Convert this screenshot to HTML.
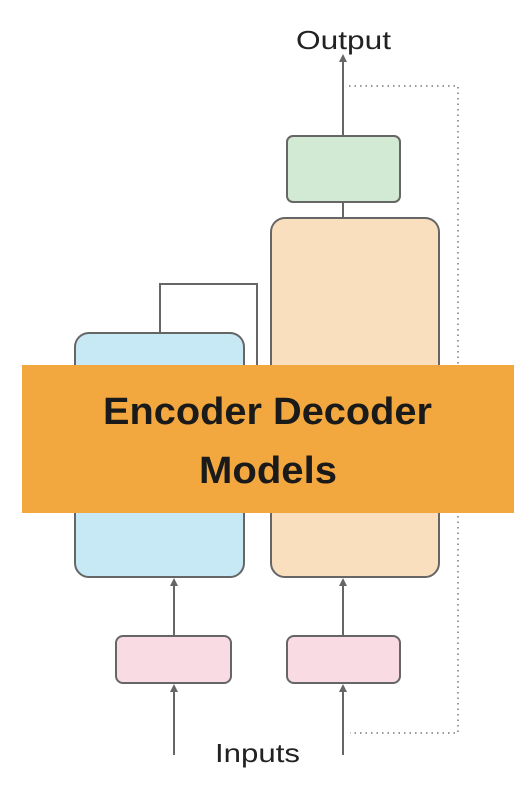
<!DOCTYPE html>
<html><head><style>
body{margin:0;width:532px;height:811px;background:#fff;overflow:hidden;position:relative;font-family:"Liberation Sans",sans-serif}
</style></head><body>
<svg width="532" height="811" style="position:absolute;left:0;top:0">
<defs><marker id="a" markerWidth="8" markerHeight="8" refX="4" refY="4" orient="auto" markerUnits="userSpaceOnUse"><path d="M0,0 L8,4 L0,8 z" fill="#666"/></marker></defs>
<g stroke="#666" stroke-width="2" fill="none">
<line x1="343" y1="137" x2="343" y2="58" marker-end="url(#a)"/>
<line x1="343" y1="202" x2="343" y2="218"/>
<polyline points="160,333 160,284 257,284 257,370"/>
<line x1="174" y1="755" x2="174" y2="688" marker-end="url(#a)"/>
<line x1="174" y1="636" x2="174" y2="582" marker-end="url(#a)"/>
<line x1="343" y1="755" x2="343" y2="688" marker-end="url(#a)"/>
<line x1="343" y1="636" x2="343" y2="582" marker-end="url(#a)"/>
</g>
<polyline points="349,86 458,86 458,733 350,733" fill="none" stroke="#999" stroke-width="2" stroke-dasharray="1.5 4"/>
<rect x="287" y="136" width="113" height="66" rx="6" fill="#d2e9d3" stroke="#666" stroke-width="2"/>
<rect x="271" y="218" width="168" height="359" rx="14" fill="#f9dfbd" stroke="#666" stroke-width="2"/>
<rect x="75" y="333" width="169" height="244" rx="14" fill="#c7e8f5" stroke="#666" stroke-width="2"/>
<rect x="116" y="636" width="115" height="47" rx="7" fill="#f8dbe3" stroke="#666" stroke-width="2"/>
<rect x="287" y="636" width="113" height="47" rx="7" fill="#f8dbe3" stroke="#666" stroke-width="2"/>
<rect x="22" y="365" width="492" height="148" fill="#f2a83e"/>
<text x="296" y="49" font-size="26" textLength="95" lengthAdjust="spacingAndGlyphs" fill="#222" font-family="Liberation Sans">Output</text>
<text x="215" y="762" font-size="26" textLength="85" lengthAdjust="spacingAndGlyphs" fill="#222" font-family="Liberation Sans">Inputs</text>
<text x="103" y="424" font-size="38" font-weight="bold" textLength="329" lengthAdjust="spacingAndGlyphs" fill="#1a1a1a" font-family="Liberation Sans">Encoder Decoder</text>
<text x="199" y="483" font-size="38" font-weight="bold" textLength="138" lengthAdjust="spacingAndGlyphs" fill="#1a1a1a" font-family="Liberation Sans">Models</text>
</svg>
</body></html>
